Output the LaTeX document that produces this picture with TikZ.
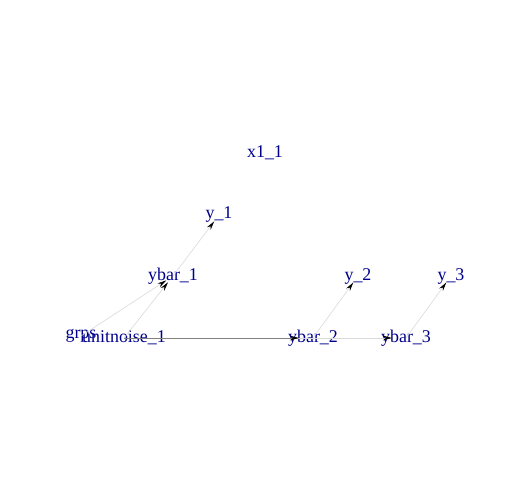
\documentclass[tikz,border=0pt]{standalone}
\usepackage{fontspec}
\setmainfont{Liberation Serif}
\usepackage{xcolor}
\usetikzlibrary{arrows.meta}

\definecolor{labelblue}{HTML}{00008B}
\definecolor{edgelight}{HTML}{D9D9D9}
\definecolor{edgedark}{HTML}{808080}

\tikzset{
  vlabel/.style={inner sep=0pt, text=labelblue, font=\fontsize{18}{21}\selectfont},
  edge/.style={edgelight, line width=0.6pt, shorten >=8bp,
    -{Stealth[length=9bp, width=4.5bp, black]}},
  darkedge/.style={edge, edgedark}
}

\begin{document}
\begin{tikzpicture}[x=1bp, y=-1bp]
    \useasboundingbox (0,0) rectangle (504,504);

    \node[vlabel] (x11) at (265,153) {x1\_1};

    \node[vlabel] (y1) at (219,215) {y\_1};
    \node[vlabel] (y2) at (358,276) {y\_2};
    \node[vlabel] (y3) at (451,276) {y\_3};

    \node[vlabel] (ybar1) at (173,276) {ybar\_1};
    \node[vlabel] (ybar2) at (313,338) {ybar\_2};
    \node[vlabel] (ybar3) at (406,338) {ybar\_3};

    \node[vlabel] (grps) at (81,336) {grps};
    \node[vlabel] (unitnoise1) at (124,338) {unitnoise\_1};

    % edges into the group means
    \draw[edge] (grps.center) -- (ybar1.center);
    \draw[edge] (unitnoise1.center) -- (ybar1.center);
    \draw[edge, shorten >=14bp] (unitnoise1.center) -- (ybar3.center);
    \draw[darkedge, shorten >=14bp] (unitnoise1.center) -- (ybar2.center);

    % edges from the group means to the data
    \draw[edge] (ybar1.center) -- (y1.center);
    \draw[edge] (ybar2.center) -- (y2.center);
    \draw[edge] (ybar3.center) -- (y3.center);

\end{tikzpicture}
\end{document}
